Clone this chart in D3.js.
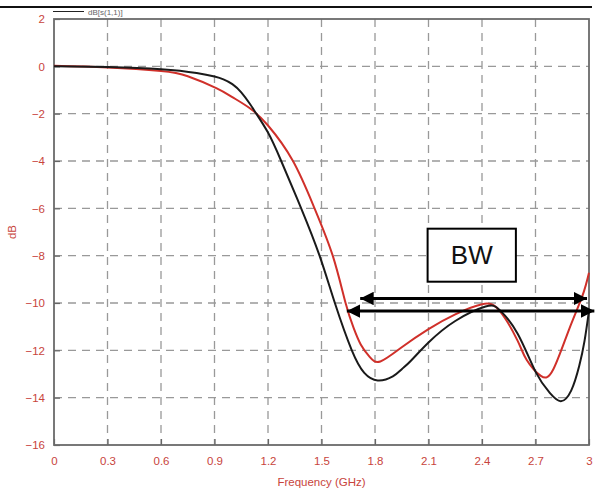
<!DOCTYPE html>
<html>
<head>
<meta charset="utf-8">
<script src="https://cdn.jsdelivr.net/npm/d3@7"></script>
<style>
  body { margin: 0; background: #fff; }
  svg { display: block; font-family: "Liberation Sans Narrow", "Liberation Sans", Arial, sans-serif; }
</style>
</head>
<body>
<svg id="chart" width="595" height="491"></svg>
<script>
// frequency ticks (GHz) and dB ticks
var freqTicks = [0, 0.3, 0.6, 0.9, 1.2, 1.5, 1.8, 2.1, 2.4, 2.7, 3];
var dbTicks = [2, 0, -2, -4, -6, -8, -10, -12, -14, -16];

// black curve: dB[s(1,1)]
var blackF  = [0, 0.3, 0.6, 0.8, 0.9, 0.95, 1.0, 1.05, 1.1, 1.13, 1.2, 1.274, 1.386, 1.489, 1.575, 1.67, 1.74, 1.815, 1.9, 1.95, 2.0, 2.1, 2.25, 2.42, 2.5, 2.6, 2.7, 2.78, 2.842, 2.9, 2.945, 2.975, 3.0];
var blackDb = [0, -0.03, -0.12, -0.28, -0.43, -0.55, -0.75, -1.1, -1.6, -1.95, -2.8, -4, -6, -8, -10, -12, -12.95, -13.27, -13.1, -12.8, -12.45, -11.67, -10.76, -10.15, -10.3, -11.3, -12.9, -13.8, -14.15, -13.7, -12.66, -11.6, -10.33];

// red curve
var redF  = [0, 0.3, 0.6, 0.75, 0.91, 1.0, 1.1, 1.2, 1.34, 1.461, 1.563, 1.635, 1.68, 1.72, 1.77, 1.83, 1.95, 2.1, 2.25, 2.4, 2.5, 2.6, 2.65, 2.73, 2.8, 2.889, 2.963, 3.0];
var redDb = [0.02, -0.05, -0.2, -0.42, -0.92, -1.3, -1.78, -2.5, -4, -6, -8, -10, -11.05, -11.75, -12.28, -12.47, -11.87, -11.1, -10.48, -10.05, -10.34, -11.6, -12.4, -13.08, -12.8, -11.1, -9.7, -8.72];

// bandwidth annotation (data units)
var arrowF1 = [1.717, 2.989], arrowDb1 = -9.81;
var arrowF2 = [1.642, 3.03],  arrowDb2 = -10.34;
var bwBoxF = [2.095, 2.59], bwBoxDb = [-6.86, -9.1];

var svg = d3.select("#chart");
var margin = {left: 54, right: 5, top: 19, bottom: 45};
var width = 595 - margin.left - margin.right,
    height = 491 - margin.top - margin.bottom;

var x = d3.scaleLinear().domain([0, 3]).range([margin.left, margin.left + width - 1]);
var y = d3.scaleLinear().domain([2, -16]).range([margin.top, margin.top + height - 1]);

var red = "#d0302a", tickRed = "#c8443c", gridCol = "#999";

// top page rule
svg.append("line")
    .attr("x1", 0).attr("x2", 592).attr("y1", 7).attr("y2", 7)
    .attr("stroke", "#111").attr("stroke-width", 2);

// legend
svg.append("line")
    .attr("x1", 53).attr("x2", 84).attr("y1", 11.5).attr("y2", 11.5)
    .attr("stroke", "#222").attr("stroke-width", 1);
svg.append("text")
    .attr("x", 88).attr("y", 14.5)
    .attr("font-size", 8).attr("fill", "#666")
    .text("dB[s(1,1)]");

// grid
var grid = svg.append("g");
grid.selectAll(".vg").data(freqTicks.slice(1, -1)).enter().append("line")
    .attr("x1", x).attr("x2", x)
    .attr("y1", y(2)).attr("y2", y(-16))
    .attr("stroke", gridCol).attr("stroke-width", 1.3).attr("stroke-dasharray", "8,6");
grid.selectAll(".hg").data(dbTicks.slice(1, -1)).enter().append("line")
    .attr("x1", x(0)).attr("x2", x(3))
    .attr("y1", y).attr("y2", y)
    .attr("stroke", gridCol).attr("stroke-width", 1.3).attr("stroke-dasharray", "8,6");

// axes with inward ticks
var xAxis = d3.axisBottom(x).tickValues(freqTicks).tickSizeInner(-6).tickSizeOuter(0).tickPadding(12)
    .tickFormat(function (d) { return d3.format("")(d); });
var gX = svg.append("g").attr("transform", "translate(0," + y(-16) + ")").call(xAxis);
var yAxis = d3.axisLeft(y).tickValues(dbTicks).tickSizeInner(-6).tickSizeOuter(0).tickPadding(9);
var gY = svg.append("g").attr("transform", "translate(" + x(0) + ",0)").call(yAxis);
[gX, gY].forEach(function (g) {
    g.select(".domain").remove();
    g.selectAll(".tick line").attr("stroke", "#666").attr("stroke-width", 1.2);
    g.selectAll(".tick text").attr("fill", tickRed).attr("font-size", 11.5)
        .attr("font-family", "Liberation Sans Narrow, Liberation Sans, Arial, sans-serif");
});

// frame
svg.append("rect")
    .attr("x", x(0)).attr("y", y(2))
    .attr("width", x(3) - x(0)).attr("height", y(-16) - y(2))
    .attr("fill", "none").attr("stroke", "#6a6a6a").attr("stroke-width", 1.8);

// axis titles
svg.append("text")
    .attr("x", (x(0) + x(3)) / 2).attr("y", 486)
    .attr("text-anchor", "middle").attr("font-size", 11.5).attr("fill", tickRed)
    .text("Frequency (GHz)");
svg.append("text")
    .attr("transform", "translate(16," + y(-7) + ") rotate(-90)")
    .attr("text-anchor", "middle").attr("font-size", 11.5).attr("fill", tickRed)
    .text("dB");

// curves
var line = d3.line()
    .x(function (d) { return x(d[0]); })
    .y(function (d) { return y(d[1]); })
    .curve(d3.curveNatural);

svg.append("path")
    .datum(redF.map(function (f, i) { return [f, redDb[i]]; }))
    .attr("d", line).attr("fill", "none").attr("stroke", red).attr("stroke-width", 2);
svg.append("path")
    .datum(blackF.map(function (f, i) { return [f, blackDb[i]]; }))
    .attr("d", line).attr("fill", "none").attr("stroke", "#1a1a1a").attr("stroke-width", 2);

// arrows
var defs = svg.append("defs");
["s", "e"].forEach(function (k) {
    defs.append("marker")
        .attr("id", "ah-" + k)
        .attr("viewBox", "0 0 10 10")
        .attr("refX", 10).attr("refY", 5)
        .attr("markerWidth", 4.5).attr("markerHeight", 4.5)
        .attr("markerUnits", "strokeWidth")
        .attr("orient", k === "s" ? "auto-start-reverse" : "auto")
        .append("path").attr("d", "M0,0 L10,5 L0,10 Z").attr("fill", "#000");
});
[[arrowF1, arrowDb1], [arrowF2, arrowDb2]].forEach(function (a) {
    svg.append("line")
        .attr("x1", x(a[0][0])).attr("x2", x(a[0][1]))
        .attr("y1", y(a[1])).attr("y2", y(a[1]))
        .attr("stroke", "#000").attr("stroke-width", 3)
        .attr("marker-start", "url(#ah-s)").attr("marker-end", "url(#ah-e)");
});

// BW box
svg.append("rect")
    .attr("x", x(bwBoxF[0])).attr("y", y(bwBoxDb[0]))
    .attr("width", x(bwBoxF[1]) - x(bwBoxF[0]))
    .attr("height", y(bwBoxDb[1]) - y(bwBoxDb[0]))
    .attr("fill", "#fff").attr("stroke", "#000").attr("stroke-width", 2);
svg.append("text")
    .attr("x", (x(bwBoxF[0]) + x(bwBoxF[1])) / 2)
    .attr("y", (y(bwBoxDb[0]) + y(bwBoxDb[1])) / 2 + 9)
    .attr("text-anchor", "middle").attr("font-size", 26)
    .attr("font-family", "Liberation Sans, Arial, sans-serif").attr("fill", "#111")
    .text("BW");
</script>
</body>
</html>
